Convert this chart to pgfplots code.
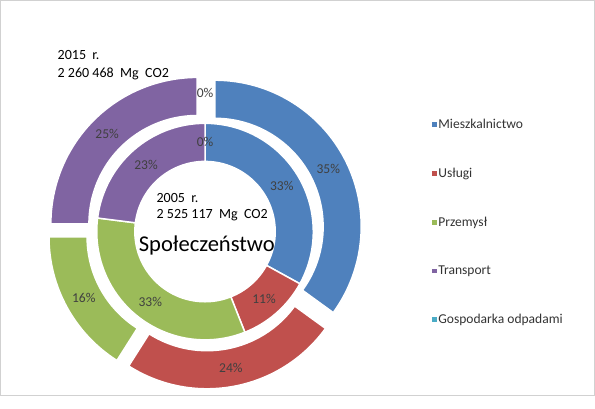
\documentclass[border=0pt]{standalone}
\usepackage{pgfplots}
\pgfplotsset{compat=1.18}
\usepackage{pgfplotstable}
\usepackage{fontspec}
\setmainfont{Carlito}
\definecolor{cMie}{HTML}{4F81BD}
\definecolor{cUsl}{HTML}{C0504D}
\definecolor{cPrz}{HTML}{9BBB59}
\definecolor{cTra}{HTML}{8064A2}
\definecolor{cGos}{HTML}{4BACC6}
\definecolor{lbl}{HTML}{404040}

\pgfplotstableread[col sep=comma]{
sector,y2005,y2015,col
Mieszkalnictwo,33,35,cMie
Uslugi,11,24,cUsl
Przemysl,33,16,cPrz
Transport,23,25,cTra
Gospodarka,0,0,cGos
}\datatable

\newcommand\drawring[4]{% #1 column, #2 inner radius, #3 outer radius, #4 explosion
  \gdef\cum{0}%
  \foreach \i in {0,...,4}{%
    \pgfplotstablegetelem{\i}{#1}\of\datatable
    \pgfmathsetmacro\val{\pgfplotsretval}%
    \pgfmathtruncatemacro\vi{\pgfplotsretval}%
    \pgfplotstablegetelem{\i}{col}\of\datatable
    \edef\clr{\pgfplotsretval}%
    \pgfmathsetmacro\aA{90-3.6*\cum}%
    \pgfmathsetmacro\aB{90-3.6*(\cum+\val)}%
    \pgfmathsetmacro\aM{(\aA+\aB)/2}%
    \pgfmathsetmacro\rM{(#2+#3)/2}%
    \coordinate (S) at ([shift={(\aM:#4pt)}]C);%
    \ifdim\val pt>0pt
      \fill[fill=\clr, draw=white, line width=1.5pt]
        ([shift={(\aA:#3pt)}]S) arc[start angle=\aA, end angle=\aB, radius=#3pt]
        -- ([shift={(\aB:#2pt)}]S) arc[start angle=\aB, end angle=\aA, radius=#2pt] -- cycle;
    \fi
    \node[text=lbl, font=\fontsize{13.5}{16}\selectfont] at ([shift={(\aM:\rM pt)}]S) {\vi\%};
    \pgfmathsetmacro\newcum{\cum+\val}%
    \xdef\cum{\newcum}%
  }%
}

\begin{document}
\begin{tikzpicture}
\begin{axis}[
  scale only axis, width=595pt, height=396pt,
  xmin=0, xmax=595, ymin=0, ymax=396,
  axis lines=none, clip=false,
  legend image code/.code={\path[#1] (0.3pt,-2.3pt) rectangle (4.9pt,2.3pt);},
  legend cell align=left,
  legend style={at={(axis cs:428,281)}, anchor=north west, draw=none, fill=none,
    font=\fontsize{13.5}{16}\selectfont, text=lbl!80!black, row sep=35pt,
    nodes={inner sep=1.5pt}},
]
\addlegendimage{fill=cMie, draw=none}
\addlegendimage{fill=cUsl, draw=none}
\addlegendimage{fill=cPrz, draw=none}
\addlegendimage{fill=cTra, draw=none}
\addlegendimage{fill=cGos, draw=none}
\legend{Mieszkalnictwo, Usługi, Przemysł, Transport, Gospodarka odpadami}
\pgfplotsextra{
  \draw[black!18, line width=1pt] (axis cs:0.5,1.5) rectangle (axis cs:593,395.5);
  \coordinate (C) at (axis cs:204.5,165);
  \drawring{y2005}{70}{108}{0}
  \drawring{y2015}{108}{146}{11}
  \node[anchor=base west, font=\fontsize{14}{17}\selectfont] at (axis cs:54,336.5) {2015\ \ r.};
  \node[anchor=base west, font=\fontsize{14}{17}\selectfont] at (axis cs:54,318.5) {2 260 468\ \ Mg\ \ CO2};
  \node[anchor=base west, font=\fontsize{14}{17}\selectfont] at (axis cs:152.7,194) {2005\ \ r.};
  \node[anchor=base west, font=\fontsize{14}{17}\selectfont] at (axis cs:152.7,178) {2 525 117\ \ Mg\ \ CO2};
  \node[anchor=base west, font=\fontsize{22.5}{26}\selectfont] at (axis cs:135,145) {Społeczeństwo};
}
\end{axis}
\end{tikzpicture}
\end{document}
